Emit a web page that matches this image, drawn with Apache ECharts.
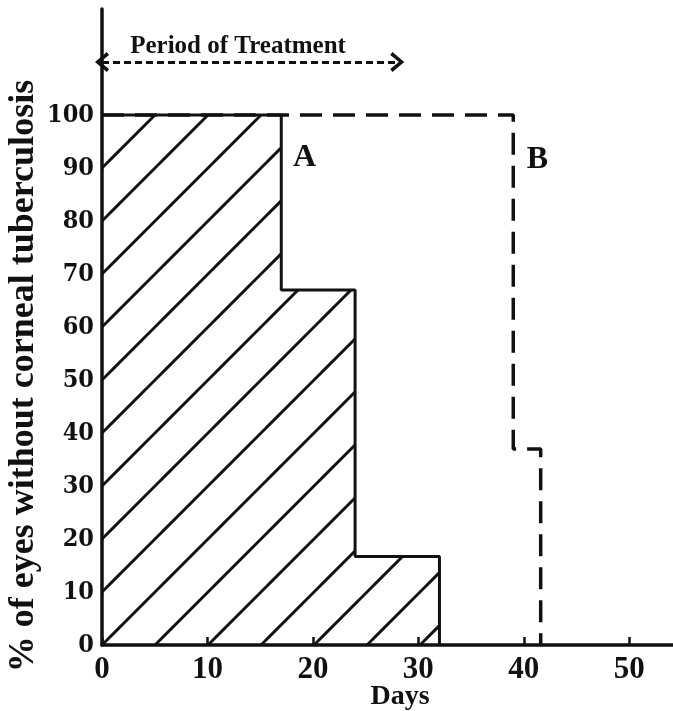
<!DOCTYPE html>
<html>
<head>
<meta charset="utf-8">
<script src="https://cdn.jsdelivr.net/npm/echarts@6/dist/echarts.min.js"></script>
<style>
html, body { margin: 0; padding: 0; background: #fff; }
#chart { width: 673px; height: 711px; }
</style>
</head>
<body>
<div id="chart"></div>
<script>
// curve A (treated, hatched area) - % of eyes still free, step changes on these days
var daysA = [0, 17, 24, 32];
var pctA = [100, 67, 16.7, 0];
// curve B (dashed)
var daysB = [0, 39, 41.6];
var pctB = [100, 37, 0];
// treatment period arrow
var treatmentDays = [0, 28];
var treatmentLevel = 110;
// tick labels
var xTicks = [0, 10, 20, 30, 40, 50];
var yTicks = [0, 10, 20, 30, 40, 50, 60, 70, 80, 90, 100];
// text notes on the plot
var noteText = ['A', 'B', 'Period of Treatment'];
var noteDay = [19.2, 41.3, 12.9];
var notePct = [92.0, 91.6, 113.0];
var noteSize = [32, 32, 25];

var serif = '"Liberation Serif", "DejaVu Serif", serif';
var ink = '#111';

var chart = echarts.init(document.getElementById('chart'));

function pairs(xs, ys) {
    return xs.map(function (x, i) { return [x, ys[i]]; });
}

// chevron pointing up, markLine turns it along the line
var chevron = 'path://M0,11 L10,0 L20,11 L17,13 L10,5 L3,13 Z';

var option = {
    animation: false,
    backgroundColor: '#fff',
    grid: { left: 102, right: -9, top: 9, bottom: 66, outerBoundsMode: 'none', containLabel: false },
    xAxis: {
        type: 'value',
        min: 0, max: 55, interval: 10,
        splitLine: { show: false },
        axisLine: { lineStyle: { color: ink, width: 3.5 } },
        axisTick: { show: true, inside: true, length: 8, lineStyle: { color: ink, width: 2.5 } },
        axisLabel: {
            margin: 9,
            color: ink,
            fontFamily: serif, fontWeight: 'bold', fontSize: 31,
            formatter: function (v) { return xTicks.indexOf(v) >= 0 ? String(v) : ''; }
        }
    },
    yAxis: {
        type: 'value',
        min: 0, max: 120, interval: 10,
        splitLine: { show: false },
        axisLine: { show: true, lineStyle: { color: ink, width: 3.5 } },
        axisTick: { show: false },
        axisLabel: {
            margin: 8,
            color: ink,
            fontFamily: '"DejaVu Serif Condensed", "DejaVu Serif", serif', fontWeight: 'bold', fontSize: 25,
            formatter: function (v) { return yTicks.indexOf(v) >= 0 ? String(v) : ''; }
        }
    },
    graphic: [
        {
            type: 'text', x: 24, y: 376, rotation: Math.PI / 2,
            style: {
                text: '% of eyes without corneal tuberculosis',
                fill: ink, font: 'bold 36px ' + serif,
                align: 'center', verticalAlign: 'middle'
            }
        },
        {
            type: 'text', x: 400, y: 697,
            style: {
                text: 'Days', fill: ink, font: 'bold 28px ' + serif,
                align: 'center', verticalAlign: 'middle'
            }
        }
    ],
    series: [
        {
            name: 'A',
            type: 'line',
            step: 'end',
            data: pairs(daysA, pctA),
            symbol: 'none',
            lineStyle: { color: ink, width: 3 },
            areaStyle: { color: 'rgba(0,0,0,0)', opacity: 1 },
            z: 3
        },
        {
            name: 'B',
            type: 'line',
            step: 'end',
            data: pairs(daysB, pctB),
            symbol: 'none',
            lineStyle: { color: ink, width: 3.5, type: [22, 11] },
            z: 2
        },
        {
            name: 'period',
            type: 'line',
            data: [],
            markLine: {
                silent: true,
                symbol: [chevron, chevron],
                symbolSize: [20, 14],
                label: { show: false },
                lineStyle: { color: ink, width: 2.8, type: [7, 4] },
                data: [[
                    { coord: [treatmentDays[0], treatmentLevel] },
                    { coord: [treatmentDays[1], treatmentLevel] }
                ]]
            }
        },
        {
            name: 'notes',
            type: 'scatter',
            symbolSize: 0,
            itemStyle: { opacity: 1 },
            data: noteText.map(function (t, i) {
                return {
                    value: [noteDay[i], notePct[i]],
                    label: { formatter: t, fontSize: noteSize[i] }
                };
            }),
            label: {
                show: true, position: 'inside',
                color: ink, opacity: 1, fontFamily: serif, fontWeight: 'bold'
            },
            z: 5
        }
    ]
};

chart.setOption(option);

// diagonal hatching for area A, lined up so the strokes leave the axes at every 10 %
var p0 = chart.convertToPixel({ gridIndex: 0 }, [0, 0]);
var p10 = chart.convertToPixel({ gridIndex: 0 }, [0, 10]);
var step = Math.round(p0[1] - p10[1]);
var c = ((p0[0] + p0[1]) % step + step) % step;
var tile = document.createElement('canvas');
tile.width = step;
tile.height = step;
var ctx = tile.getContext('2d');
ctx.strokeStyle = ink;
ctx.lineWidth = 3;
for (var k = -1; k <= 2; k++) {
    var s = c + k * step;
    ctx.beginPath();
    ctx.moveTo(s + step, -step);
    ctx.lineTo(s - 2 * step, 2 * step);
    ctx.stroke();
}
chart.setOption({
    series: [{ name: 'A', areaStyle: { color: { image: tile, repeat: 'repeat' }, opacity: 1 } }]
});
</script>
</body>
</html>
